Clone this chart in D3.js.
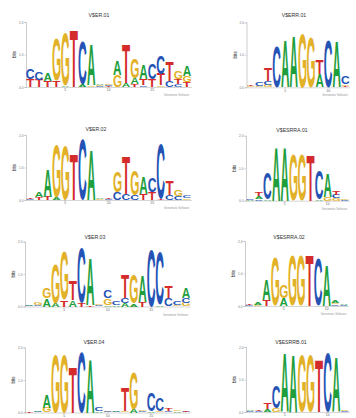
<!DOCTYPE html>
<html>
<head>
<meta charset="utf-8">
<script src="https://cdn.jsdelivr.net/npm/d3@7"></script>
<style>
  html, body { margin: 0; padding: 0; background: #fff; }
  svg { display: block; }
</style>
</head>
<body>
<svg id="chart" width="356" height="418"></svg>
<script>
// Sequence logos: each column is a stack of [base, bits], drawn bottom to top.
const titles = ["V$ER.01", "V$ERR.01", "V$ER.02", "V$ESRRA.01",
                "V$ER.03", "V$ESRRA.02", "V$ER.04", "V$ESRRB.01"];

const er01 = [
  [["T",.25],["C",.3]], [["T",.22],["C",.25]], [["T",.2],["A",.23]], [["T",.2],["G",1.3]],
  [["A",.05],["G",1.6]], [["T",1.75]], [["A",.06],["C",1.35]], [["G",.05],["A",1.25]],
  [["C",.03],["G",.03],["A",.04]], [["T",.03],["C",.04],["G",.04]], [["G",.37],["A",.45]],
  [["A",.12],["T",1.2]], [["T",.08],["A",.18],["G",.6]], [["C",.05],["T",.2],["A",.45]],
  [["T",.25],["C",.5]], [["G",.05],["T",.35],["C",.55]], [["C",.2],["T",.6]],
  [["C",.08],["T",.17],["G",.25]], [["T",.15],["G",.2],["A",.3]]
];
const err01 = [
  [["G",.03],["T",.04]], [["G",.05],["C",.1]], [["G",.08],["C",.12],["T",.4]], [["C",1.25]],
  [["A",1.45]], [["A",1.55]], [["G",1.65]], [["G",1.55]], [["A",.4],["T",.45]],
  [["C",1.45]], [["A",1.4]], [["T",.05],["G",.05],["C",.22]]
];
const er02 = [
  [["C",.03],["T",.05]], [["T",.08],["A",.15]], [["T",.1],["A",.85]], [["A",.08],["G",1.6]],
  [["G",1.65]], [["T",1.4]], [["C",1.85]], [["A",1.5]], [["G",.03],["A",.05]],
  [["C",.04],["T",.05]], [["C",.25],["G",.65]], [["C",.2],["T",1.15]], [["C",.15],["G",.75]],
  [["T",.2],["A",.5]], [["T",.25],["C",.45]], [["T",.05],["C",1.7]], [["C",.15],["T",.45]],
  [["C",.12],["G",.2]], [["G",.05],["C",.08]]
];
const esrra01 = [
  [["A",.03],["C",.03]], [["C",.05],["A",.08],["T",.12]], [["A",.05],["C",.8]], [["A",1.65]],
  [["A",1.65]], [["G",1.43]], [["G",1.43]], [["T",1.38]], [["A",.05],["C",.9]],
  [["G",.1],["A",.7]], [["G",.08],["C",.1],["T",.12]], [["C",.03],["G",.03]]
];
const er03 = [
  [["C",.03],["A",.04]], [["C",.04],["G",.06]], [["A",.25],["G",.3]], [["A",.1],["G",1.2]],
  [["T",.2],["G",1.5]], [["A",.2],["T",.6]], [["T",.1],["C",1.7]], [["T",.05],["A",1.45]],
  [["C",.05],["G",.04]], [["A",.05],["G",.2],["C",.25]], [["A",.05],["C",.1]],
  [["A",.1],["C",.15],["T",.7]], [["A",.08],["G",.9]], [["T",.15],["A",.8]], [["C",1.75]],
  [["A",.05],["C",1.6]], [["C",.25],["T",.35]], [["G",.05],["C",.1]], [["G",.1],["C",.15],["A",.3]]
];
const esrra02 = [
  [["C",.03],["T",.03]], [["G",.04],["A",.06]], [["T",.2],["A",.65]], [["G",1.5]],
  [["A",.25],["G",.4]], [["G",1.54]], [["G",1.54]], [["T",1.54]], [["C",1.44]],
  [["A",1.23]], [["C",.05],["G",.05],["A",.08]], [["C",.03],["A",.03]]
];
const er04 = [
  [["T",.03]], [["C",.03],["A",.04]], [["G",.15],["A",.4]], [["G",1.77]], [["G",1.77]],
  [["T",1.4]], [["C",1.85]], [["A",1.64]], [["A",.05],["C",.1]], [["G",.03],["C",.03]],
  [["C",.03],["A",.03]], [["G",.05],["T",.7]], [["A",.1],["G",1.15]], [["C",.05],["G",.05]],
  [["A",.05],["C",.55]], [["G",.05],["C",.4]], [["C",.05],["T",.08]], [["A",.04],["G",.05]],
  [["C",.03],["T",.05]]
];
const esrrb01 = [
  [["C",.03],["A",.03]], [["C",.04],["T",.05]], [["A",.08],["T",.2]], [["G",.1],["C",.7]],
  [["A",1.79]], [["A",1.75]], [["G",1.75]], [["G",1.75]], [["T",1.59]], [["C",1.84]],
  [["A",1.69]], [["C",.03],["G",.03]]
];
const motifs = [er01, err01, er02, esrra01, er03, esrra02, er04, esrrb01];

const bitTicks = [0, 1, 2];
const leftPositionTicks = [5, 10, 15];
const rightPositionTicks = [5, 10];
const footer = "Genomatix Software";

const baseColor = { A: "#1e9e3c", C: "#2453b5", G: "#e2b128", T: "#d42b2b" };

// panel frames: axis x, column width, zero line, title centre
const panelLayout = [
  { ax: 26,    cw: 8.7, base: 87,    tx: 99,  ty: 15 },
  { ax: 246.5, cw: 8.6, base: 87.3,  tx: 294, ty: 15 },
  { ax: 26,    cw: 8.7, base: 200,   tx: 96,  ty: 129.5 },
  { ax: 246,   cw: 8.6, base: 200.7, tx: 292, ty: 130 },
  { ax: 25,    cw: 8.7, base: 306.5, tx: 95,  ty: 237.5 },
  { ax: 245,   cw: 8.6, base: 306,   tx: 289, ty: 237 },
  { ax: 25,    cw: 8.7, base: 412.5, tx: 94,  ty: 342 },
  { ax: 246,   cw: 8.6, base: 412,   tx: 291, ty: 342 }
];
const bitsSpan = 65;
const svgHeight = 418;

// tight glyph boxes so letters fill their cells exactly
const FONT = '"Liberation Sans", Arial, sans-serif';
const ctx = document.createElement("canvas").getContext("2d");
ctx.font = `bold 100px ${FONT}`;
const glyph = {};
for (const b of "ACGT") {
  const m = ctx.measureText(b);
  glyph[b] = { l: m.actualBoundingBoxLeft, r: m.actualBoundingBoxRight,
               a: m.actualBoundingBoxAscent, d: m.actualBoundingBoxDescent };
}

const svg = d3.select("#chart");

motifs.forEach((cols, i) => {
  const p = panelLayout[i];
  const n = cols.length;
  const x = d3.scaleBand().domain(d3.range(1, n + 1)).range([p.ax, p.ax + n * p.cw]).padding(0);
  const y = d3.scaleLinear().domain([0, 2]).range([p.base, p.base - bitsSpan]);
  const g = svg.append("g");

  // title
  g.append("text")
    .attr("x", p.tx).attr("y", p.ty + 1.8)
    .attr("text-anchor", "middle")
    .attr("font-family", FONT).attr("font-size", 5.2)
    .attr("fill", "#333")
    .text(titles[i]);

  // y axis
  const ya = g.append("g").attr("transform", `translate(${p.ax},0)`)
    .call(d3.axisLeft(y).tickValues(bitTicks).tickFormat(d3.format(".1f")).tickSize(1.5).tickPadding(1));
  ya.select(".domain").attr("stroke", "#aaa").attr("stroke-width", 0.6);
  ya.selectAll(".tick line").attr("stroke", "#aaa").attr("stroke-width", 0.5);
  ya.selectAll("text").attr("font-size", 3.2).attr("font-family", FONT).attr("fill", "#777");

  g.append("text")
    .attr("transform", `translate(${p.ax - 10},${y(1)}) rotate(-90)`)
    .attr("text-anchor", "middle")
    .attr("font-family", FONT).attr("font-size", 4.6)
    .attr("fill", "#222")
    .text("bits");

  // x axis
  const xa = g.append("g").attr("transform", `translate(0,${p.base})`)
    .call(d3.axisBottom(x).tickValues(n > 12 ? leftPositionTicks : rightPositionTicks)
      .tickSize(1.2).tickPadding(0.6).tickSizeOuter(0));
  xa.select(".domain").attr("stroke", "#bbb").attr("stroke-width", 0.6);
  xa.selectAll(".tick line").attr("stroke", "#aaa").attr("stroke-width", 0.5);
  xa.selectAll("text").attr("font-size", 3.4).attr("font-family", FONT).attr("fill", "#666");

  // credit line under the axis, only where it fits on the sheet
  if (p.base + 9 < svgHeight) {
    g.append("text")
      .attr("x", p.ax + n * p.cw - 2).attr("y", p.base + 9)
      .attr("text-anchor", "end")
      .attr("font-family", FONT).attr("font-size", 2.8)
      .attr("fill", "#999")
      .text(footer);
  }

  // letters
  const stacks = cols.map((col, ci) => {
    let acc = 0;
    return col.map(([b, v]) => {
      const r = { b, pos: ci + 1, y0: acc, y1: acc + v };
      acc += v;
      return r;
    });
  }).flat();

  g.selectAll("text.base").data(stacks).join("text")
    .attr("class", "base")
    .attr("font-family", FONT).attr("font-weight", "bold").attr("font-size", 100)
    .attr("fill", d => baseColor[d.b])
    .attr("transform", d => {
      const gm = glyph[d.b];
      const inset = x.bandwidth() * 0.04;
      const x0 = x(d.pos) + inset, x1 = x(d.pos) + x.bandwidth() - inset;
      const yb = y(d.y0), yt = y(d.y1);
      const sx = (x1 - x0) / (gm.l + gm.r);
      const sy = (yb - yt) / (gm.a + gm.d);
      return `translate(${x0 + gm.l * sx},${yb - gm.d * sy}) scale(${sx},${sy})`;
    })
    .text(d => d.b);
});
</script>
</body>
</html>
